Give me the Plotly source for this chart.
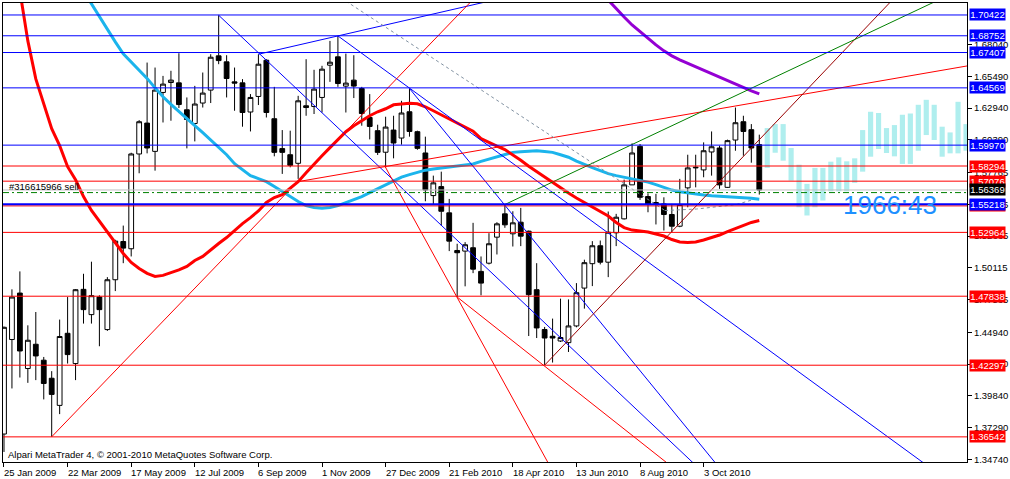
import plotly.graph_objects as go
import pandas as pd

# ---------------- weekly GBPUSD candles ----------------
opens = [1.3677, 1.4436, 1.4809, 1.4203, 1.4398, 1.4270, 1.4125, 1.3907, 1.4486, 1.4243,
         1.4839, 1.4636, 1.4777, 1.4516, 1.4916, 1.5223, 1.5165, 1.5926, 1.6174, 1.5947,
         1.6420, 1.6500, 1.6497, 1.6281, 1.6171, 1.6335, 1.6439, 1.6714, 1.6666, 1.6505,
         1.6497, 1.6263, 1.6388, 1.6679, 1.6209, 1.5969, 1.5920, 1.5851, 1.6313, 1.6307,
         1.6380, 1.6639, 1.6706, 1.6471, 1.6519, 1.6452, 1.6219, 1.6113, 1.5940, 1.6118,
         1.6054, 1.6265, 1.6105, 1.5934, 1.5592, 1.5664, 1.5453, 1.5151, 1.5146, 1.5173,
         1.4983, 1.5049, 1.5258, 1.5445, 1.5285, 1.5378, 1.5306, 1.4836, 1.4516, 1.4462,
         1.4424, 1.4411, 1.4545, 1.4849, 1.5045, 1.5189, 1.5057, 1.5293, 1.5405, 1.5678,
         1.5987, 1.5584, 1.5536, 1.5525, 1.5440, 1.5346, 1.5654, 1.5814, 1.5798, 1.5942,
         1.5974, 1.5658, 1.6038, 1.6185, 1.6121, 1.6001]
highs = [1.4540, 1.4839, 1.4983, 1.4550, 1.4657, 1.4296, 1.4182, 1.4596, 1.4777, 1.4841,
         1.4964, 1.5061, 1.4791, 1.4937, 1.5237, 1.5351, 1.5936, 1.6198, 1.6660, 1.6620,
         1.6553, 1.6594, 1.6735, 1.6380, 1.6473, 1.6580, 1.6727, 1.7040, 1.6719, 1.6620,
         1.6527, 1.6407, 1.6727, 1.6687, 1.6465, 1.6118, 1.6113, 1.6393, 1.6687, 1.6602,
         1.6634, 1.6834, 1.6874, 1.6732, 1.6719, 1.6465, 1.6407, 1.6161, 1.6225, 1.6233,
         1.6353, 1.6452, 1.6113, 1.6065, 1.5752, 1.5784, 1.5565, 1.5205, 1.5218, 1.5373,
         1.5103, 1.5290, 1.5378, 1.5520, 1.5466, 1.5493, 1.5311, 1.5049, 1.4537, 1.4604,
         1.4764, 1.4758, 1.4889, 1.5077, 1.5226, 1.5231, 1.5464, 1.5445, 1.5720, 1.6011,
         1.6006, 1.5610, 1.5606, 1.5578, 1.5525, 1.5726, 1.5920, 1.5920, 1.6019, 1.6107,
         1.5993, 1.6041, 1.6299, 1.6233, 1.6166, 1.6081]
lows = [1.3533, 1.4043, 1.4131, 1.4088, 1.4110, 1.3955, 1.3655, 1.3837, 1.4243, 1.4110,
        1.4564, 1.4564, 1.4382, 1.4505, 1.4825, 1.5049, 1.5103, 1.5771, 1.5931, 1.5792,
        1.6179, 1.6193, 1.6295, 1.5971, 1.6027, 1.6299, 1.6335, 1.6647, 1.6380, 1.6273,
        1.6145, 1.6107, 1.6319, 1.6219, 1.5907, 1.5766, 1.5819, 1.5726, 1.6233, 1.6247,
        1.6259, 1.6505, 1.6465, 1.6259, 1.6375, 1.6153, 1.6043, 1.5918, 1.5816, 1.5891,
        1.6001, 1.6065, 1.5960, 1.5546, 1.5520, 1.5351, 1.5146, 1.4777, 1.4863, 1.4969,
        1.4791, 1.5039, 1.5119, 1.5333, 1.5183, 1.5186, 1.4464, 1.4448, 1.4230, 1.4251,
        1.4416, 1.4336, 1.4534, 1.4684, 1.4865, 1.5039, 1.4937, 1.5186, 1.5400, 1.5678,
        1.5557, 1.5458, 1.5360, 1.5311, 1.5298, 1.5338, 1.5498, 1.5658, 1.5739, 1.5752,
        1.5646, 1.5654, 1.5952, 1.5912, 1.5856, 1.5600]
closes = [1.4534, 1.4777, 1.4344, 1.4430, 1.4304, 1.4083, 1.3995, 1.4460, 1.4315, 1.4836,
          1.4676, 1.4788, 1.4676, 1.4916, 1.5226, 1.5170, 1.5926, 1.6185, 1.5974, 1.6439,
          1.6487, 1.6519, 1.6323, 1.6203, 1.6327, 1.6415, 1.6703, 1.6676, 1.6532, 1.6495,
          1.6259, 1.6380, 1.6647, 1.6259, 1.5939, 1.5939, 1.5835, 1.6353, 1.6299, 1.6447,
          1.6607, 1.6663, 1.6492, 1.6495, 1.6471, 1.6251, 1.6147, 1.5939, 1.6142, 1.6014,
          1.6255, 1.6107, 1.5971, 1.5637, 1.5694, 1.5466, 1.5226, 1.5133, 1.5197, 1.5001,
          1.4889, 1.5205, 1.5365, 1.5357, 1.5373, 1.5266, 1.4796, 1.4529, 1.4448, 1.4448,
          1.4452, 1.4545, 1.4812, 1.5053, 1.5189, 1.5057, 1.5298, 1.5418, 1.5678, 1.5934,
          1.5578, 1.5520, 1.5520, 1.5440, 1.5346, 1.5520, 1.5814, 1.5819, 1.5952, 1.5984,
          1.5678, 1.6033, 1.6177, 1.6107, 1.5974, 1.5637]

# ---------------- moving averages ----------------
red_ma = [None, None, 1.7234, 1.6834, 1.6529, 1.6321, 1.6129, 1.5993, 1.5824, 1.5720,
          1.5584, 1.5472, 1.5384, 1.5295, 1.5215, 1.5127, 1.5055, 1.5007, 1.4967, 1.4943,
          1.4951, 1.4971, 1.4995, 1.5023, 1.5071, 1.5103, 1.5159, 1.5207, 1.5255, 1.5311,
          1.5367, 1.5415, 1.5468, 1.5536, 1.5576, 1.5600, 1.5656, 1.5704, 1.5776, 1.5848,
          1.5912, 1.5977, 1.6041, 1.6105, 1.6153, 1.6193, 1.6233, 1.6265, 1.6289, 1.6321,
          1.6329, 1.6333, 1.6329, 1.6305, 1.6273, 1.6241, 1.6205, 1.6177, 1.6145, 1.6109,
          1.6049, 1.6017, 1.5989, 1.5961, 1.5920, 1.5876, 1.5828, 1.5784, 1.5740, 1.5698,
          1.5656, 1.5612, 1.5572, 1.5536, 1.5504, 1.5468, 1.5428, 1.5376, 1.5335, 1.5315,
          1.5307, 1.5299, 1.5283, 1.5267, 1.5239, 1.5219, 1.5215, 1.5219, 1.5235, 1.5255,
          1.5275, 1.5303, 1.5327, 1.5351, 1.5376, 1.5392]
cyan_ma = [None] * 10 + [
          1.7234, 1.7130, 1.7026, 1.6922, 1.6826, 1.6730, 1.6666, 1.6594, 1.6533, 1.6457,
          1.6385, 1.6325, 1.6265, 1.6205, 1.6153, 1.6097, 1.6037, 1.5981, 1.5920, 1.5848,
          1.5800, 1.5752, 1.5728, 1.5704, 1.5664, 1.5624, 1.5584, 1.5544, 1.5512, 1.5496,
          1.5490, 1.5496, 1.5512, 1.5536, 1.5560, 1.5584, 1.5616, 1.5648, 1.5680, 1.5712,
          1.5740, 1.5760, 1.5780, 1.5796, 1.5806, 1.5816, 1.5822, 1.5830, 1.5840, 1.5846,
          1.5867, 1.5886, 1.5904, 1.5923, 1.5939, 1.5944, 1.5950, 1.5952, 1.5946, 1.5939,
          1.5920, 1.5900, 1.5868, 1.5840, 1.5816, 1.5792, 1.5768, 1.5752, 1.5740, 1.5724,
          1.5712, 1.5700, 1.5680, 1.5656, 1.5636, 1.5622, 1.5612, 1.5604, 1.5596, 1.5590,
          1.5584, 1.5582, 1.5579, 1.5576, 1.5570, 1.5562]
purple_ma = [None] * 76 + [
          1.7162, 1.7090, 1.7026, 1.6962, 1.6906, 1.6850, 1.6802, 1.6754, 1.6714, 1.6682,
          1.6654, 1.6626, 1.6598, 1.6569, 1.6541, 1.6513, 1.6485, 1.6461, 1.6433, 1.6409]

# ---------------- projected (ghost) bars ----------------
ghost_high = [1.6134, 1.6166, 1.6166, 1.5974, 1.5840, 1.5686, 1.5814, 1.5814, 1.5864, 1.5899,
              1.5867, 1.5891, 1.6118, 1.6265, 1.6255, 1.6134, 1.6158, 1.6241, 1.6251, 1.6321,
              1.6361, 1.6321, 1.6145, 1.6099, 1.6345, 1.6166]
ghost_low = [1.5814, 1.5936, 1.5872, 1.5712, 1.5498, 1.5432, 1.5498, 1.5552, 1.5626, 1.5626,
             1.5626, 1.5694, 1.5784, 1.5904, 1.5966, 1.5934, 1.5907, 1.5846, 1.5846, 1.5952,
             1.6078, 1.6038, 1.5904, 1.5931, 1.5931, 1.5952]

# ---------------- horizontal levels ----------------
blue_levels = [1.70422, 1.68752, 1.67407, 1.64569, 1.59970]
blue_main_level = 1.55218
red_levels = [1.58294, 1.57076, 1.52964, 1.47838, 1.42297, 1.36542]
red_hidden_level = 1.55090
bid_level = 1.56369
order_level = 1.56160

# ---------------- trend lines (bar index, price) ----------------
blue_trend = [((27, 1.7040), (87.5, 1.3396)),
              ((32, 1.6727), (61.125, 1.7155)),
              ((42, 1.6874), (116.5, 1.3406)),
              ((51, 1.6452), (89.875, 1.3414))]
red_trend = [((6, 1.3655), (58.8, 1.7154)),
             ((47.875, 1.5832), (68.625, 1.3424)),
             ((37, 1.5704), (121.5, 1.6637)),
             ((57, 1.4777), (83.75, 1.3427))]
maroon_trend = [((68, 1.4230), (111.6, 1.7154))]
green_trend = [((63, 1.5520), (117.25, 1.7154))]
gray_trend_x = [43, 83.125, None, 83.125, 87.125, 92.125, 94.25]
gray_trend_y = [1.7154, 1.5472, None, 1.5472, 1.5484, 1.5520, 1.5560]

# ---------------- axis ticks ----------------
price_ticks = [1.34740, 1.37290, 1.39840, 1.42390, 1.44940, 1.47565, 1.50115, 1.52665,
               1.55215, 1.57765, 1.60390, 1.62940, 1.65490, 1.68040]
week_dates = pd.date_range('2009-01-25', periods=122, freq='7D')
date_tick_bars = list(range(0, 96, 8))
date_tick_text = [f"{week_dates[i].day} {week_dates[i]:%b %Y}" for i in date_tick_bars]

timer_text = "1966:43"
order_text = "#316615966 sell"
copyright_text = "Alpari MetaTrader 4, © 2001-2010 MetaQuotes Software Corp."

FONT = "Liberation Sans"
bars = list(range(len(opens)))
ghost_bars = list(range(len(opens), len(opens) + len(ghost_high)))

fig = go.Figure()

fig.add_trace(go.Bar(x=ghost_bars, y=[h - l for h, l in zip(ghost_high, ghost_low)],
                     base=ghost_low, width=0.65,
                     marker=dict(color='#AFEEEE', line=dict(width=0)), hoverinfo='skip'))

fig.add_trace(go.Candlestick(x=bars, open=opens, high=highs, low=lows, close=closes,
                             increasing=dict(line=dict(color='black', width=1), fillcolor='white'),
                             decreasing=dict(line=dict(color='black', width=1), fillcolor='black'),
                             whiskerwidth=0, hoverinfo='skip'))

for ma, col in [(cyan_ma, '#1BB4EC'), (red_ma, '#FF0000'), (purple_ma, '#9400D3')]:
    fig.add_trace(go.Scatter(x=bars, y=ma, mode='lines', line=dict(color=col, width=3),
                             hoverinfo='skip', connectgaps=False))

for group, col in [(blue_trend, '#0000FF'), (red_trend, '#FF0000'),
                   (maroon_trend, '#990000'), (green_trend, '#008000')]:
    for (x0, y0), (x1, y1) in group:
        fig.add_trace(go.Scatter(x=[x0, x1], y=[y0, y1], mode='lines',
                                 line=dict(color=col, width=1), hoverinfo='skip'))

fig.add_trace(go.Scatter(x=gray_trend_x, y=gray_trend_y, mode='lines',
                         line=dict(color='#8090A0', width=1, dash='3px,3px'), hoverinfo='skip'))

shapes = []
def hline(y, color, width=1, dash='solid'):
    shapes.append(dict(type='line', xref='paper', x0=0, x1=1, yref='y', y0=y, y1=y,
                       line=dict(color=color, width=width, dash=dash), layer='above'))

for lv in red_levels:
    hline(lv, '#FF0000')
hline(red_hidden_level, '#FF0000')
for lv in blue_levels:
    hline(lv, '#0000FF')
hline(blue_main_level, '#0000FF', width=2)
hline(bid_level, '#C0C0C0')
hline(order_level, '#008000', dash='6px,3px,2px,3px')

annotations = []
def price_label(y, bg, text=None):
    annotations.append(dict(xref='paper', x=1, xanchor='left', xshift=2, yref='y', y=y,
                            yanchor='middle', text=text or f"{y:.5f}", showarrow=False,
                            font=dict(family=FONT, size=9.5, color='white'), bgcolor=bg,
                            width=35, height=11, borderpad=0, align='center'))

price_label(red_hidden_level, '#FF0000')
for lv in blue_levels:
    price_label(lv, '#0000FF')
for lv in red_levels:
    price_label(lv, '#FF0000')
price_label(blue_main_level, '#0000FF')
price_label(bid_level, '#000000')

for b, t in zip(date_tick_bars, date_tick_text):
    annotations.append(dict(xref='x', x=b, xanchor='left', xshift=-2, yref='paper', y=0,
                            yanchor='top', yshift=-3, text=t, showarrow=False,
                            font=dict(family=FONT, size=9.5, color='black')))

annotations.append(dict(xref='paper', x=0, xanchor='left', xshift=3, yref='y', y=1.3515,
                        yanchor='middle', text=copyright_text, showarrow=False,
                        font=dict(family=FONT, size=9.5, color='black')))
annotations.append(dict(xref='paper', x=0, xanchor='left', xshift=4, yref='y', y=1.5662,
                        yanchor='middle', text=order_text, showarrow=False,
                        font=dict(family=FONT, size=9.5, color='black')))
annotations.append(dict(xref='x', x=111.5, xanchor='center', yref='y', y=1.5516,
                        yanchor='middle', text=timer_text, showarrow=False,
                        font=dict(family=FONT, size=26, color='#1E90FF')))

fig.update_layout(
    width=1010, height=479,
    margin=dict(l=2, r=38, t=2, b=17, pad=0),
    paper_bgcolor='white', plot_bgcolor='white',
    showlegend=False, boxgap=0.4, boxgroupgap=0, barmode='overlay',
    font=dict(family=FONT, size=9.5, color='black'),
    shapes=shapes, annotations=annotations,
    xaxis=dict(range=[-0.125, 121.125], showgrid=False, zeroline=False,
               showline=True, linecolor='black', linewidth=1, mirror=True,
               ticks='outside', ticklen=4, tickcolor='black', tickvals=date_tick_bars,
               showticklabels=False, rangeslider=dict(visible=False), fixedrange=True),
    yaxis=dict(range=[1.34524, 1.71384], side='right', showgrid=False, zeroline=False,
               showline=True, linecolor='black', linewidth=1, mirror=True,
               ticks='outside', ticklen=4, tickcolor='black',
               tickvals=price_ticks, ticktext=[f"{v:.5f}" for v in price_ticks],
               tickfont=dict(family=FONT, size=9.5, color='black'), fixedrange=True),
)

fig.write_html("out.html", config={'displayModeBar': False},
               post_script="document.body.style.margin='0px';document.body.style.overflow='hidden';")
